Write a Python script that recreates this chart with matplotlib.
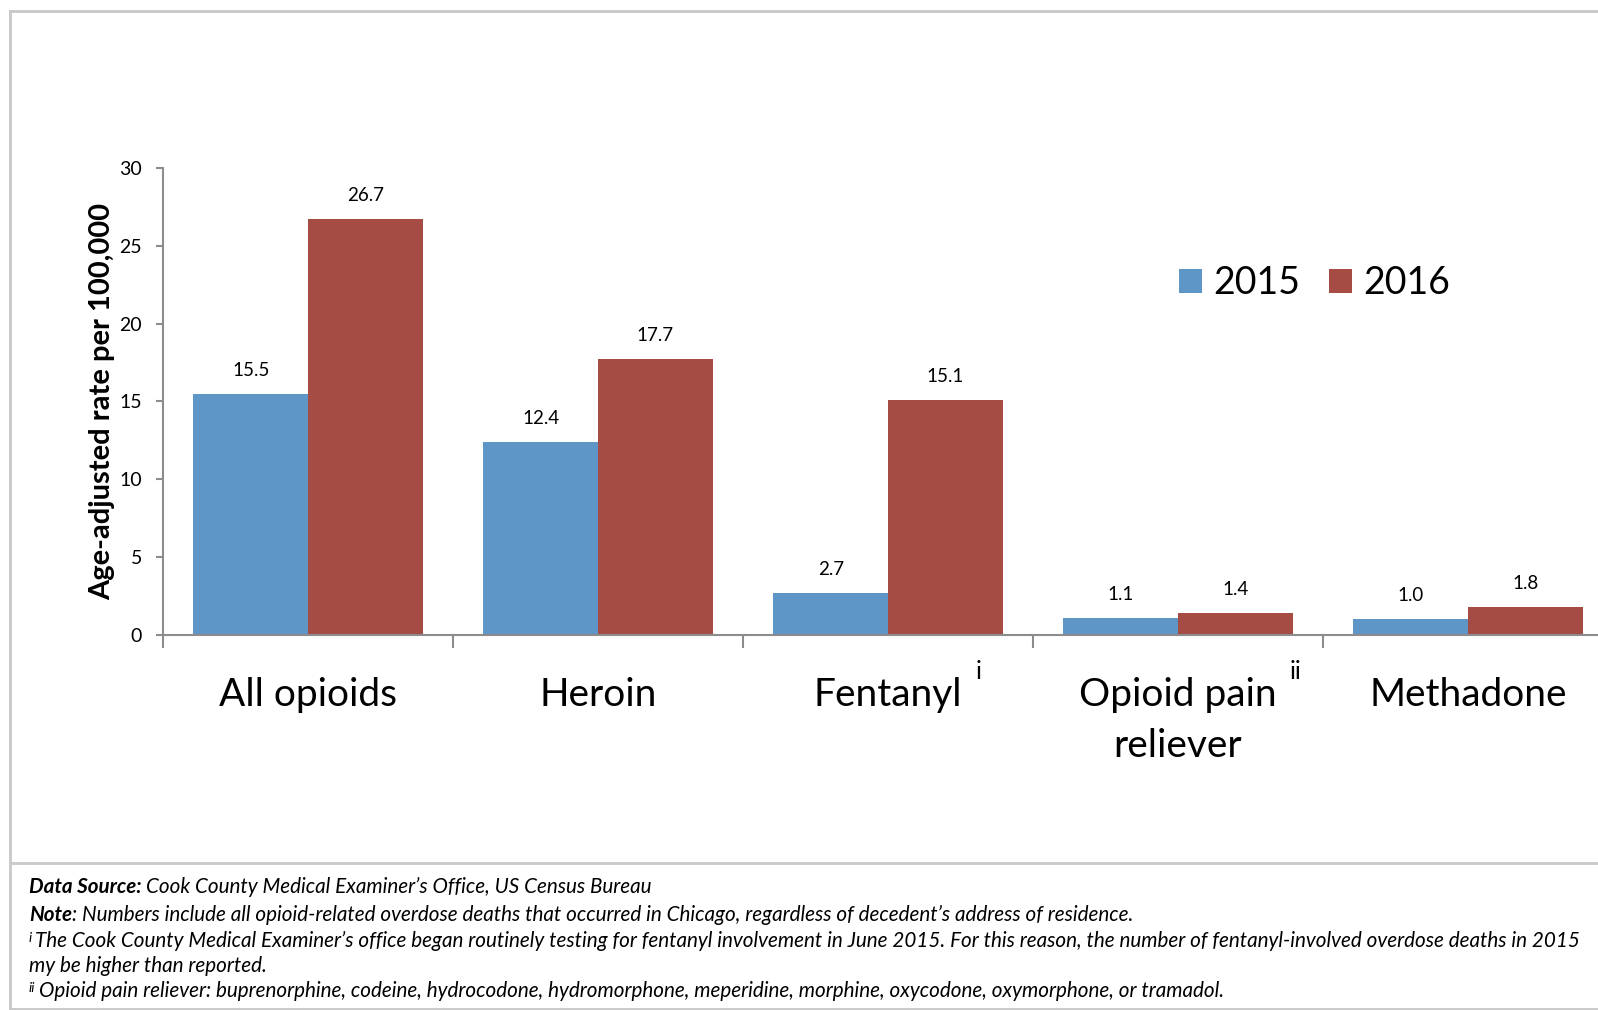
import numpy as np
import matplotlib.pyplot as plt
from matplotlib.lines import Line2D

# Age-adjusted opioid overdose death rates, Chicago
categories = ["All opioids", "Heroin", "Fentanyl", "Opioid pain\nreliever", "Methadone"]
footnote_marks = ["", "", "i", "ii", ""]
rate_2015 = [15.5, 12.4, 2.7, 1.1, 1.0]
rate_2016 = [26.7, 17.7, 15.1, 1.4, 1.8]
years = ["2015", "2016"]
yticks = [0, 5, 10, 15, 20, 25, 30]

BLUE = "#5F96C8"
RED = "#A54C45"
AXIS = "#8C8C8C"
FRAME = "#C8C8C8"
FONT = "Lato"

W, H = 1598, 1010
fig = plt.figure(figsize=(W / 100, H / 100), dpi=100)
fig.patch.set_facecolor("white")

# outer frame and footer separator
for xs, ys in [((10, 10), (11, H)), ((10, W), (11, 11)),
               ((10, W), (863, 863)), ((10, W), (1009, 1009))]:
    fig.add_artist(Line2D([x / W for x in xs], [1 - y / H for y in ys],
                          color=FRAME, lw=2))

# axes: categories at 0..4, boundaries at half-integers (right end runs past the figure)
ax = fig.add_axes([163 / W, 1 - 635 / H, 1450 / W, 467 / H])
ax.set_xlim(-0.5, 4.5)
ax.set_ylim(0, 30)

x = np.arange(len(categories))
bw = 0.395
b1 = ax.bar(x - bw / 2, rate_2015, bw, color=BLUE, label=years[0])
b2 = ax.bar(x + bw / 2, rate_2016, bw, color=RED, label=years[1])

for bars, vals in [(b1, rate_2015), (b2, rate_2016)]:
    for rect, v in zip(bars, vals):
        ax.annotate(f"{v:.1f}", (rect.get_x() + rect.get_width() / 2, v),
                    xytext=(0, 17), textcoords="offset points",
                    ha="center", va="center", fontsize=13.5, family=FONT)

for side in ["top", "right"]:
    ax.spines[side].set_visible(False)
for side in ["left", "bottom"]:
    ax.spines[side].set_color(AXIS)
    ax.spines[side].set_linewidth(1.5)

ax.set_yticks(yticks)
ax.set_yticklabels([str(t) for t in yticks], family=FONT, fontsize=14)
ax.tick_params(axis="y", length=5, width=1.5, color=AXIS, pad=10)

# x ticks sit on the category boundaries, labels drawn separately
ax.set_xticks(np.arange(-0.5, 5.0, 1.0))
ax.set_xticklabels([])
ax.tick_params(axis="x", length=9, width=1.5, color=AXIS)

fig.canvas.draw()
renderer = fig.canvas.get_renderer()
label_y = -0.09
for i, (cat, mark) in enumerate(zip(categories, footnote_marks)):
    ax.text(i, label_y, cat, transform=ax.get_xaxis_transform(), ha="center", va="top",
            fontsize=28, family=FONT, linespacing=1.5)
    if mark:
        first = cat.split("\n")[0]
        t = ax.text(i, label_y, first, transform=ax.get_xaxis_transform(), ha="center",
                    va="top", fontsize=28, family=FONT, alpha=0)
        bb = t.get_window_extent(renderer)
        fig.text((bb.x1 + 13) / W, (bb.y1 + 17) / H, mark, fontsize=18, family=FONT,
                 ha="left", va="top")

ax.set_ylabel("Age-adjusted rate per 100,000", family=FONT, fontweight="bold",
              fontsize=21, labelpad=3)

leg = ax.legend(loc="center left", bbox_to_anchor=(1179 / W, 1 - 283 / H),
                bbox_transform=fig.transFigure, ncol=2, frameon=False,
                prop={"family": FONT, "size": 27}, handlelength=0.62, handleheight=0.62,
                handletextpad=0.3, columnspacing=0.75, borderpad=0, borderaxespad=0)

# footer notes
fs = 14.9


def run(x0, y, parts):
    xp = x0
    for s, kw in parts:
        t = fig.text(xp / W, 1 - y / H, s, family=FONT, fontsize=kw.get("size", fs),
                     style="italic", fontweight=kw.get("weight", "normal"),
                     va=kw.get("va", "center"))
        xp = t.get_window_extent(renderer).x1 + kw.get("gap", 0)


run(29, 887, [("Data Source: ", {"weight": "bold"}),
              ("Cook County Medical Examiner\u2019s Office, US Census Bureau", {})])
run(29, 915, [("Note", {"weight": "bold"}),
              (": Numbers include all opioid-related overdose deaths that occurred in Chicago, "
               "regardless of decedent\u2019s address of residence.", {})])
run(29, 932, [("i", {"size": 10, "va": "top", "gap": 2})])
run(35, 941, [("The Cook County Medical Examiner\u2019s office began routinely testing for fentanyl "
               "involvement in June 2015. For this reason, the number of fentanyl-involved "
               "overdose deaths in 2015", {})])
run(29, 966, [("my be higher than reported.", {})])
run(29, 982, [("ii", {"size": 10, "va": "top"})])
run(39, 991, [("Opioid pain reliever: buprenorphine, codeine, hydrocodone, hydromorphone, "
               "meperidine, morphine, oxycodone, oxymorphone, or tramadol.", {})])

fig.savefig("out.png", dpi=100)
